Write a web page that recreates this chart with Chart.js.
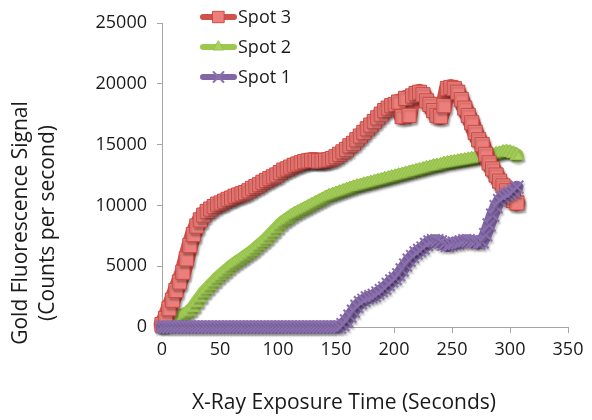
<!DOCTYPE html>
<html>
<head>
<meta charset="utf-8">
<script src="https://cdn.jsdelivr.net/npm/chart.js@4"></script>
<style>
  html, body { margin: 0; padding: 0; background: #fff; }
  #wrap { width: 592px; height: 420px; position: relative; }
</style>
</head>
<body>
<div id="wrap"><canvas id="c" width="592" height="420"></canvas></div>
<script>
// ---- data ----
const timeSec = [0,3,6,9,12,15,18,21,24,27,30,33,36,39,42,45,48,51,54,57,60,63,66,69,72,75,78,81,84,87,90,93,96,99,102,105,108,111,114,117,120,123,126,129,132,135,138,141,144,147,150,153,156,159,162,165,168,171,174,177,180,183,186,189,192,195,198,201,204,207,210,213,216,219,222,225,228,231,234,237,240,243,246,249,252,255,258,261,264,267,270,273,276,279,282,285,288,291,294,297,300,303,306];

const spot3 = [200,700,1500,2200,3000,3700,4500,5600,6700,7600,8300,8800,9200,9500,9700,9900,10100,10200,10350,10500,10600,10750,10850,10950,11050,11200,11400,11550,11700,11900,12050,12200,12350,12500,12700,12900,13000,13150,13300,13400,13500,13600,13650,13700,13700,13650,13650,13700,13750,13850,14000,14200,14400,14600,14900,15100,15400,15700,16000,16300,16600,16900,17200,17500,17800,18000,18200,18300,18500,17300,18800,17400,19000,19200,19300,19100,18600,18300,17800,17400,17300,18200,19600,19700,19600,19300,18700,18000,17400,16800,16000,15400,15000,14200,13500,13000,12500,12000,11600,11200,10800,10400,10200];

const spot2 = [100,300,500,650,750,850,950,1100,1300,1600,2000,2400,2800,3100,3400,3700,4000,4250,4500,4750,5000,5200,5400,5600,5800,6000,6200,6450,6700,6950,7200,7500,7800,8100,8400,8650,8850,9050,9250,9400,9550,9700,9850,10000,10150,10300,10450,10600,10750,10850,10950,11050,11150,11250,11350,11450,11550,11600,11700,11750,11850,11900,12000,12050,12150,12200,12300,12350,12450,12500,12600,12650,12750,12800,12900,12950,13050,13100,13200,13250,13300,13400,13450,13500,13550,13600,13650,13700,13750,13800,13850,13900,13950,14000,14050,14100,14200,14250,14350,14400,14350,14250,14100];

const spot1 = [0,0,0,0,0,0,0,0,0,0,0,0,0,0,0,0,0,0,0,0,0,0,0,0,0,0,0,0,0,0,0,0,0,0,0,0,0,0,0,0,0,0,0,0,0,0,0,0,0,0,0,0,200,500,900,1300,1700,2000,2200,2400,2500,2600,2800,3000,3200,3500,3800,4000,4300,4700,5100,5500,5800,6100,6300,6500,6800,7000,7100,7100,7000,6800,6700,6800,6900,6900,7000,7100,7100,7000,7000,6900,7000,7600,8400,9200,9900,10400,10700,10900,11000,11200,11500];

const seriesNames = ['Spot 3', 'Spot 2', 'Spot 1'];
const xTicks = [0, 50, 100, 150, 200, 250, 300, 350];
const yTicks = [0, 5000, 10000, 15000, 20000, 25000];
const xTitle = 'X-Ray Exposure Time (Seconds)';
const yTitleLines = ['Gold Fluorescence Signal', '(Counts per second)'];

// ---- styles ----
const FONT = '"Open Sans", "DejaVu Sans", sans-serif';
const styles = {
  'Spot 3': { line: '#D0504C', width: 17, fill: '#EC7F7B', border: '#CC4A45', point: 'rect', radius: 10, pbw: 1, lw: 6, lr: 8 },
  'Spot 2': { line: '#9CC850', width: 14, fill: '#A8D25C', border: '#96C24C', point: 'triangle', radius: 8, pbw: 1, lw: 6, lr: 6 },
  'Spot 1': { line: '#8266A6', width: 13, fill: '#8266A6', border: '#8A70AE', point: 'crossRot', radius: 9, pbw: 2, lw: 6, lr: 7 }
};

function toXY(vals) { return vals.map((v, i) => ({ x: timeSec[i], y: v })); }

function ds(name, vals, order) {
  const s = styles[name];
  return {
    label: name,
    data: toXY(vals),
    borderColor: s.line,
    borderWidth: s.width,
    borderJoinStyle: 'round',
    borderCapStyle: 'round',
    backgroundColor: s.fill,
    pointStyle: s.point,
    pointRadius: s.radius,
    pointBorderColor: s.border,
    pointBackgroundColor: s.fill,
    pointBorderWidth: s.pbw,
    tension: 0,
    clip: false,
    order: order
  };
}

function drawMarker(ctx, style, x, y, r) {
  ctx.save();
  ctx.fillStyle = style.fill;
  ctx.strokeStyle = style.border;
  ctx.lineWidth = style.pbw;
  ctx.beginPath();
  if (style.point === 'rect') {
    const s = Math.SQRT1_2 * r;
    ctx.rect(x - s, y - s, 2 * s, 2 * s);
    ctx.fill(); ctx.stroke();
  } else if (style.point === 'triangle') {
    ctx.moveTo(x, y - r);
    ctx.lineTo(x + r * 0.866, y + r * 0.5);
    ctx.lineTo(x - r * 0.866, y + r * 0.5);
    ctx.closePath();
    ctx.fill(); ctx.stroke();
  } else {
    const d = r * Math.SQRT1_2;
    ctx.moveTo(x - d, y - d); ctx.lineTo(x + d, y + d);
    ctx.moveTo(x + d, y - d); ctx.lineTo(x - d, y + d);
    ctx.stroke();
  }
  ctx.restore();
}

const overlay = {
  id: 'overlay',
  beforeDatasetDraw(chart) {
    const ctx = chart.ctx;
    ctx.save();
    ctx.shadowColor = 'rgba(0,0,0,0.22)';
    ctx.shadowOffsetX = 1.5;
    ctx.shadowOffsetY = 2.5;
    ctx.shadowBlur = 2;
  },
  afterDatasetDraw(chart) {
    chart.ctx.restore();
  },
  afterDraw(chart) {
    const ctx = chart.ctx;
    ctx.save();
    // legend
    const ys = [17, 47, 77];
    seriesNames.forEach((name, i) => {
      const s = styles[name];
      const y = ys[i];
      ctx.strokeStyle = s.line;
      ctx.lineWidth = s.lw;
      ctx.lineCap = 'round';
      ctx.beginPath();
      ctx.moveTo(203, y); ctx.lineTo(234, y);
      ctx.stroke();
      drawMarker(ctx, s, 218.5, y, s.lr);
      ctx.fillStyle = '#1a1a1a';
      ctx.font = '18px ' + FONT;
      ctx.textAlign = 'left';
      ctx.textBaseline = 'middle';
      ctx.fillText(name, 238, y + 1);
    });
    // axis titles
    ctx.fillStyle = '#1a1a1a';
    ctx.font = '21px ' + FONT;
    ctx.textAlign = 'center';
    ctx.textBaseline = 'middle';
    ctx.fillText(xTitle, 344, 403);
    ctx.save();
    ctx.translate(21, 223);
    ctx.rotate(-Math.PI / 2);
    ctx.fillText(yTitleLines[0], 0, 0);
    ctx.fillText(yTitleLines[1], 0, 27);
    ctx.restore();
    ctx.restore();
  }
};

new Chart(document.getElementById('c'), {
  type: 'line',
  data: {
    datasets: [
      ds('Spot 1', spot1, 0),
      ds('Spot 3', spot3, 1),
      ds('Spot 2', spot2, 2)
    ]
  },
  options: {
    responsive: false,
    animation: false,
    layout: { padding: { top: 23, right: 24, left: 0, bottom: 0 } },
    plugins: { legend: { display: false }, tooltip: { enabled: false } },
    scales: {
      x: {
        type: 'linear',
        min: 0, max: 350,
        afterBuildTicks: (s) => { s.ticks = xTicks.map(v => ({ value: v })); },
        afterFit: (s) => { s.height = 93; },
        grid: { drawOnChartArea: false, drawTicks: true, tickLength: 6, color: '#a6a6a6' },
        border: { display: true, color: '#a6a6a6', width: 1 },
        ticks: { color: '#1a1a1a', font: { family: FONT, size: 18 }, padding: 6, maxRotation: 0,
                 callback: (v) => String(v) }
      },
      y: {
        type: 'linear',
        min: 0, max: 25000,
        afterBuildTicks: (s) => { s.ticks = yTicks.map(v => ({ value: v })); },
        afterFit: (s) => { s.width = 162; },
        grid: { drawOnChartArea: false, drawTicks: true, tickLength: 5, color: '#a6a6a6' },
        border: { display: true, color: '#a6a6a6', width: 1 },
        ticks: { color: '#1a1a1a', font: { family: FONT, size: 18 }, padding: 10,
                 callback: (v) => String(v) }
      }
    }
  },
  plugins: [overlay]
});
</script>
</body>
</html>
